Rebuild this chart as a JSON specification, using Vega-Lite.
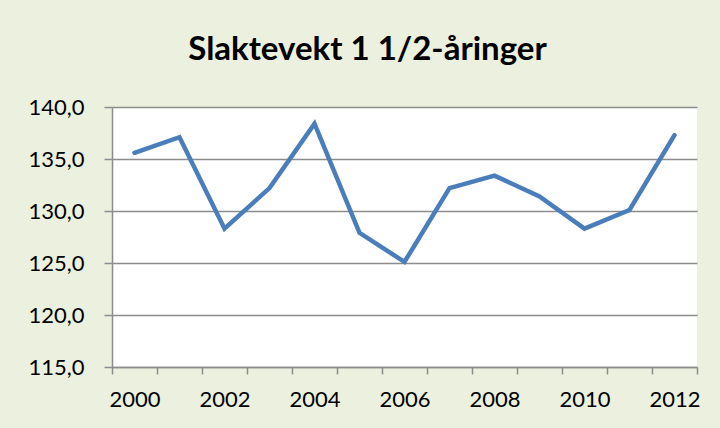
{
  "$schema": "https://vega.github.io/schema/vega-lite/v6.json",
  "width": 585,
  "height": 260,
  "autosize": {"type": "none"},
  "padding": {"left": 112, "top": 107, "right": 23, "bottom": 61},
  "background": "#EBF1DE",
  "title": {
    "text": "Slaktevekt 1 1/2-åringer",
    "font": "Lato",
    "fontSize": 33,
    "fontWeight": "bold",
    "color": "#000000",
    "anchor": "middle",
    "frame": "group",
    "dx": -37,
    "baseline": "alphabetic",
    "offset": 3
  },
  "data": {
    "values": [
      {"year": 2000, "weight": 135.6},
      {"year": 2001, "weight": 137.1},
      {"year": 2002, "weight": 128.3},
      {"year": 2003, "weight": 132.2},
      {"year": 2004, "weight": 138.4},
      {"year": 2005, "weight": 127.9},
      {"year": 2006, "weight": 125.1},
      {"year": 2007, "weight": 132.2},
      {"year": 2008, "weight": 133.4},
      {"year": 2009, "weight": 131.4},
      {"year": 2010, "weight": 128.3},
      {"year": 2011, "weight": 130.1},
      {"year": 2012, "weight": 137.3}
    ]
  },
  "mark": {
    "type": "line",
    "color": "#4A7EBB",
    "strokeWidth": 4.5,
    "strokeJoin": "miter",
    "strokeCap": "round"
  },
  "encoding": {
    "x": {
      "field": "year",
      "type": "ordinal",
      "scale": {"type": "band", "paddingInner": 0, "paddingOuter": 0},
      "axis": {
        "title": null,
        "tickBand": "extent",
        "labelExpr": "datum.value % 2 == 0 ? datum.label : ''",
        "labelAngle": 0,
        "labelOverlap": false,
        "tickSize": 7,
        "labelPadding": 15,
        "labelBaseline": "top"
      }
    },
    "y": {
      "field": "weight",
      "type": "quantitative",
      "scale": {"domain": [115, 140], "nice": false, "zero": false},
      "axis": {
        "title": null,
        "values": [115, 120, 125, 130, 135, 140],
        "labelExpr": "replace(format(datum.value, '.1f'), '.', ',')",
        "grid": true,
        "tickSize": 8,
        "labelPadding": 20
      }
    }
  },
  "config": {
    "view": {"fill": "#FFFFFF", "stroke": null},
    "axis": {
      "labelFont": "Lato",
      "labelFontSize": 22,
      "labelColor": "#000000",
      "domainColor": "#8C8C8C",
      "domainWidth": 1.5,
      "tickColor": "#8C8C8C",
      "tickWidth": 1.5,
      "gridColor": "#8C8C8C",
      "gridWidth": 1.5,
      "gridOpacity": 1
    },
    "axisX": {"grid": false}
  }
}
